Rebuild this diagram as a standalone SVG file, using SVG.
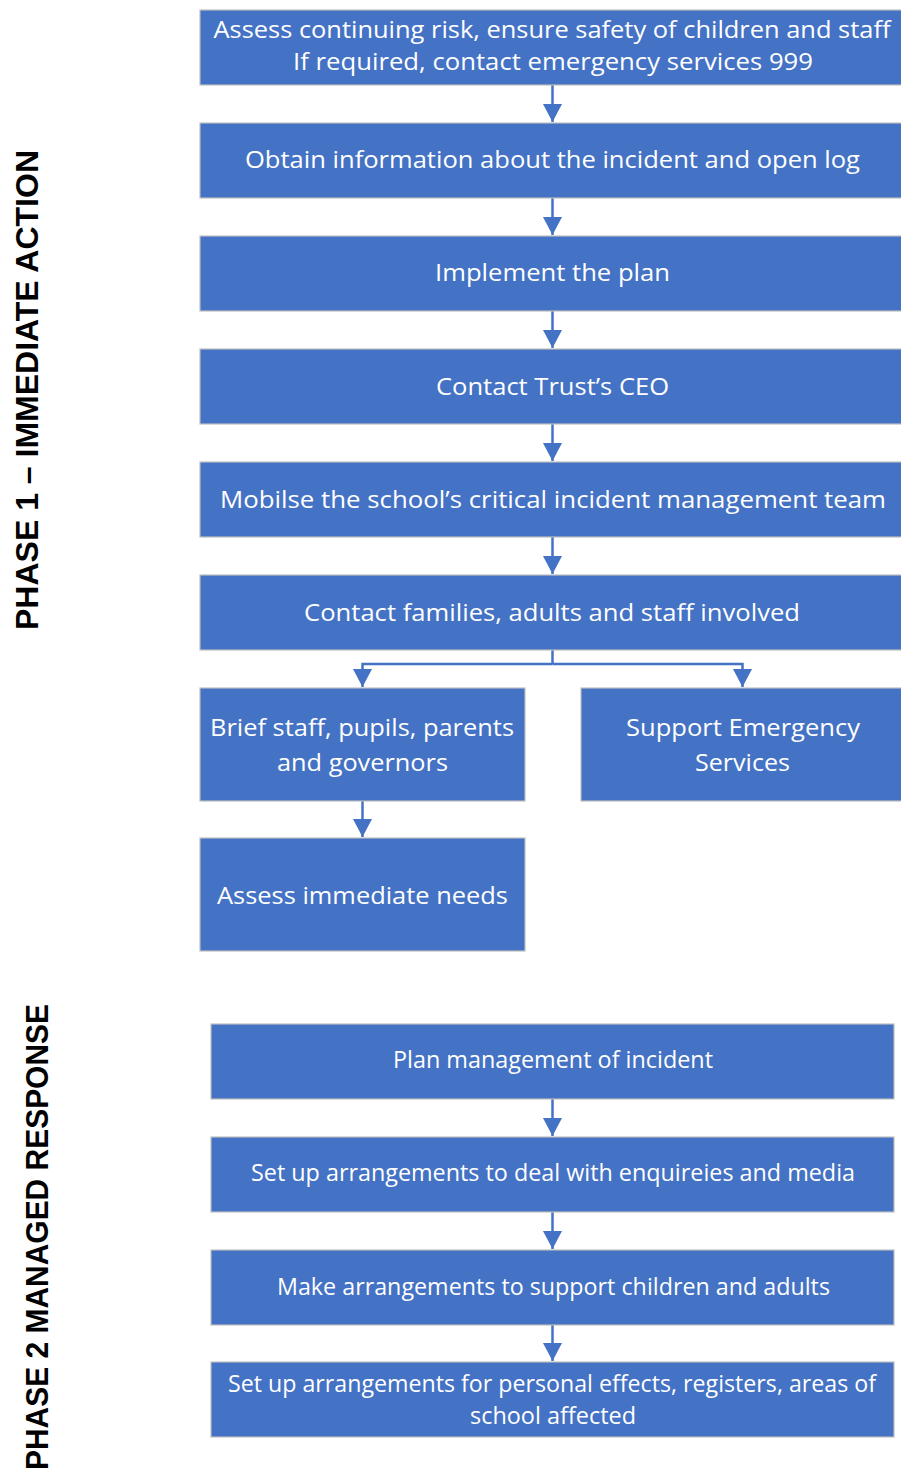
<svg xmlns="http://www.w3.org/2000/svg" width="901" height="1479" viewBox="0 0 901 1479">
  <style>
    .box { fill: #4472C4; stroke: #BFBFBF; stroke-width: 1.2; }
    .t { fill: #FFFFFF; font-family: "Open Sans", "Liberation Sans", sans-serif; font-size: 23px; text-anchor: middle; }
    .side { fill: #000000; font-family: "Liberation Sans", "Open Sans", sans-serif; font-weight: bold; font-size: 32px; text-anchor: middle; }
    .conn { stroke: #4472C4; stroke-width: 2.5; fill: none; }
  </style>
  <defs>
    <marker id="arrow" markerUnits="userSpaceOnUse" markerWidth="20" markerHeight="20" refX="18" refY="9.5" orient="auto">
      <path d="M0,0 L18,9.5 L0,19 Z" fill="#4472C4"/>
    </marker>
  </defs>
  <rect width="901" height="1479" fill="#FFFFFF"/>

  <!-- phase labels -->
  <g id="phase1-label">
    <text class="side" transform="translate(38,390) rotate(-90)" textLength="480" lengthAdjust="spacingAndGlyphs">PHASE 1 – IMMEDIATE ACTION</text>
  </g>
  <g id="phase2-label">
    <text class="side" transform="translate(48,1237) rotate(-90)" textLength="466" lengthAdjust="spacingAndGlyphs">PHASE 2 MANAGED RESPONSE</text>
  </g>

  <!-- connectors -->
  <g id="connectors">
    <line class="conn" x1="552.5" y1="85" x2="552.5" y2="122" marker-end="url(#arrow)"/>
    <line class="conn" x1="552.5" y1="198" x2="552.5" y2="235" marker-end="url(#arrow)"/>
    <line class="conn" x1="552.5" y1="311" x2="552.5" y2="348" marker-end="url(#arrow)"/>
    <line class="conn" x1="552.5" y1="424" x2="552.5" y2="461" marker-end="url(#arrow)"/>
    <line class="conn" x1="552.5" y1="537" x2="552.5" y2="574" marker-end="url(#arrow)"/>
    <line class="conn" x1="552.5" y1="650" x2="552.5" y2="664"/>
    <polyline class="conn" points="552.5,664 362.5,664 362.5,687" marker-end="url(#arrow)"/>
    <polyline class="conn" points="552.5,664 742.5,664 742.5,687" marker-end="url(#arrow)"/>
    <line class="conn" x1="362.5" y1="801" x2="362.5" y2="837" marker-end="url(#arrow)"/>
    <line class="conn" x1="552.5" y1="1099" x2="552.5" y2="1136" marker-end="url(#arrow)"/>
    <line class="conn" x1="552.5" y1="1212" x2="552.5" y2="1249" marker-end="url(#arrow)"/>
    <line class="conn" x1="552.5" y1="1325" x2="552.5" y2="1361" marker-end="url(#arrow)"/>
  </g>

  <!-- phase 1 nodes -->
  <g id="assess-risk">
    <rect class="box" x="200" y="10" width="702" height="75"/>
    <text class="t" x="552" y="38" textLength="677" lengthAdjust="spacingAndGlyphs">Assess continuing risk, ensure safety of children and staff</text>
    <text class="t" x="553" y="70" textLength="520" lengthAdjust="spacingAndGlyphs">If required, contact emergency services 999</text>
  </g>
  <g id="obtain-info">
    <rect class="box" x="200" y="123" width="702" height="75"/>
    <text class="t" x="552.5" y="168" textLength="615" lengthAdjust="spacingAndGlyphs">Obtain information about the incident and open log</text>
  </g>
  <g id="implement-plan">
    <rect class="box" x="200" y="236" width="702" height="75"/>
    <text class="t" x="552.5" y="281" textLength="235" lengthAdjust="spacingAndGlyphs">Implement the plan</text>
  </g>
  <g id="contact-ceo">
    <rect class="box" x="200" y="349" width="702" height="75"/>
    <text class="t" x="552.5" y="395" textLength="233" lengthAdjust="spacingAndGlyphs">Contact Trust’s CEO</text>
  </g>
  <g id="mobilise-team">
    <rect class="box" x="200" y="462" width="702" height="75"/>
    <text class="t" x="553" y="508" textLength="666" lengthAdjust="spacingAndGlyphs">Mobilse the school’s critical incident management team</text>
  </g>
  <g id="contact-families">
    <rect class="box" x="200" y="575" width="702" height="75"/>
    <text class="t" x="552" y="621" textLength="496" lengthAdjust="spacingAndGlyphs">Contact families, adults and staff involved</text>
  </g>
  <g id="brief-staff">
    <rect class="box" x="200" y="688" width="325" height="113"/>
    <text class="t" x="362" y="736" textLength="304" lengthAdjust="spacingAndGlyphs">Brief staff, pupils, parents</text>
    <text class="t" x="362.5" y="771" textLength="171" lengthAdjust="spacingAndGlyphs">and governors</text>
  </g>
  <g id="support-emergency">
    <rect class="box" x="581" y="688" width="321" height="113"/>
    <text class="t" x="743" y="736" textLength="234" lengthAdjust="spacingAndGlyphs">Support Emergency</text>
    <text class="t" x="742.5" y="771" textLength="95" lengthAdjust="spacingAndGlyphs">Services</text>
  </g>
  <g id="assess-needs">
    <rect class="box" x="200" y="838" width="325" height="113"/>
    <text class="t" x="362.5" y="904" textLength="291" lengthAdjust="spacingAndGlyphs">Assess immediate needs</text>
  </g>

  <!-- phase 2 nodes -->
  <g id="plan-management">
    <rect class="box" x="211" y="1024" width="683" height="75"/>
    <text class="t" x="553" y="1068" textLength="320" lengthAdjust="spacingAndGlyphs">Plan management of incident</text>
  </g>
  <g id="enquiries-media">
    <rect class="box" x="211" y="1137" width="683" height="75"/>
    <text class="t" x="553" y="1181" textLength="604" lengthAdjust="spacingAndGlyphs">Set up arrangements to deal with enquireies and media</text>
  </g>
  <g id="support-children">
    <rect class="box" x="211" y="1250" width="683" height="75"/>
    <text class="t" x="553.5" y="1295" textLength="553" lengthAdjust="spacingAndGlyphs">Make arrangements to support children and adults</text>
  </g>
  <g id="personal-effects">
    <rect class="box" x="211" y="1362" width="683" height="75"/>
    <text class="t" x="552" y="1392" textLength="648" lengthAdjust="spacingAndGlyphs">Set up arrangements for personal effects, registers, areas of</text>
    <text class="t" x="553" y="1424" textLength="166" lengthAdjust="spacingAndGlyphs">school affected</text>
  </g>
</svg>
